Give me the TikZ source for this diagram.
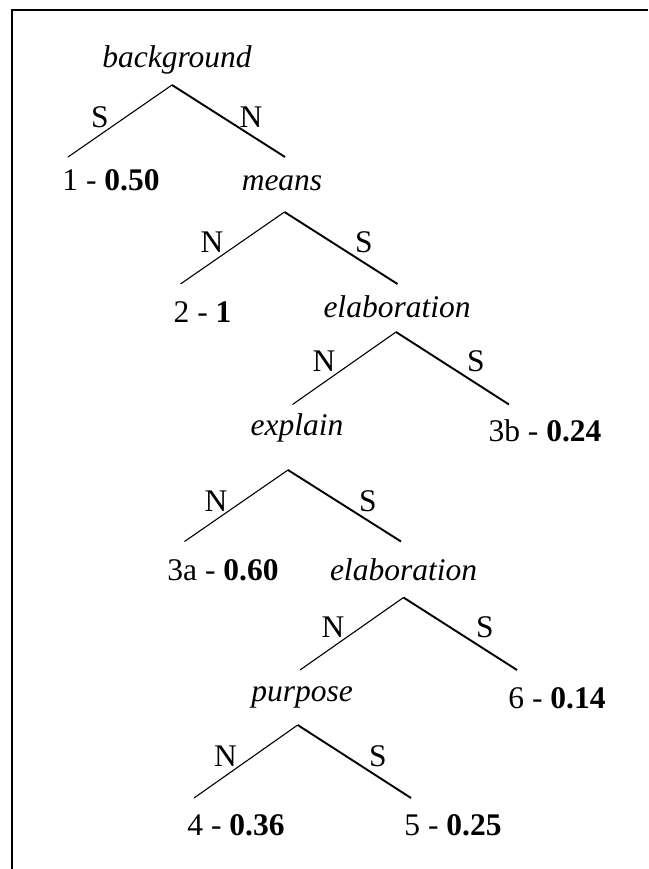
\documentclass[tikz,border=0pt]{standalone}
\usepackage{fontspec}
\setmainfont{Liberation Serif}
\begin{document}
\begin{tikzpicture}[x=1pt,y=-1pt,
  lab/.style={font=\fontsize{31.5}{36}\selectfont, inner sep=0pt, anchor=base},
  rel/.style={font=\fontsize{31.5}{36}\selectfont\itshape, inner sep=0pt, anchor=base},
  nuc/.style={font=\fontsize{31.5}{36}\selectfont, inner sep=0pt, anchor=center},
  thinedge/.style={line width=1.1pt},
  thickedge/.style={line width=1.9pt},
  frameline/.style={line width=2pt, line join=miter}]
\useasboundingbox (0,0) rectangle (648,869);
% frame
\coordinate (fb) at (12.3,869);
\coordinate (fc) at (12.3,10.3);
\coordinate (fr) at (648,10.3);
\draw[frameline] (fb) -- (fc) -- (fr);

% relation labels
\node[rel] (bg) at (177,68) {background};
\node[rel] (means) at (282,190) {means};
\node[rel] (elab1) at (397,317) {elaboration};
\node[rel] (expl) at (297,435) {explain};
\node[rel] (elab2) at (403.5,580) {elaboration};
\node[rel] (purp) at (302,701) {purpose};

% leaves
\node[lab] (l1) at (111,190) {1 - \textbf{0.50}};
\node[lab] (l2) at (202.5,322) {2 - \textbf{1}};
\node[lab] (l3b) at (545,441) {3b - \textbf{0.24}};
\node[lab] (l3a) at (223,580) {3a - \textbf{0.60}};
\node[lab] (l6) at (557,708) {6 - \textbf{0.14}};
\node[lab] (l4) at (236,835) {4 - \textbf{0.36}};
\node[lab] (l5) at (453,835) {5 - \textbf{0.25}};

% apexes and ends
\coordinate (bgA) at (172,85);   \coordinate (bgL) at (68,157);   \coordinate (bgR) at (285,157);
\coordinate (mA) at (284.5,212); \coordinate (mL) at (180.5,284); \coordinate (mR) at (397.5,284);
\coordinate (e1A) at (396,332);  \coordinate (e1L) at (292.5,404.5); \coordinate (e1R) at (509,404.5);
\coordinate (xA) at (288,470);   \coordinate (xL) at (184.5,541.5); \coordinate (xR) at (401,541.5);
\coordinate (e2A) at (403.5,597.5); \coordinate (e2L) at (300,670); \coordinate (e2R) at (517,670);
\coordinate (pA) at (297.7,725); \coordinate (pL) at (194,798);  \coordinate (pR) at (411,798);

\draw[thinedge] (bgA) -- (bgL);  \draw[thickedge] (bgA) -- (bgR);
\draw[thinedge] (mA) -- (mL);    \draw[thickedge] (mA) -- (mR);
\draw[thinedge] (e1A) -- (e1L);  \draw[thickedge] (e1A) -- (e1R);
\draw[thinedge] (xA) -- (xL);    \draw[thickedge] (xA) -- (xR);
\draw[thinedge] (e2A) -- (e2L);  \draw[thickedge] (e2A) -- (e2R);
\draw[thinedge] (pA) -- (pL);    \draw[thickedge] (pA) -- (pR);

% nuclearity labels
\node[nuc] (bgS) at (100,117) {S};   \node[nuc] (bgN) at (251,117) {N};
\node[nuc] (mN) at (212,242) {N};    \node[nuc] (mS) at (364,242) {S};
\node[nuc] (e1N) at (324,361) {N};   \node[nuc] (e1S) at (476,361) {S};
\node[nuc] (xN) at (216,501) {N};    \node[nuc] (xS) at (368,501) {S};
\node[nuc] (e2N) at (333,627.5) {N}; \node[nuc] (e2S) at (485,627.5) {S};
\node[nuc] (pN) at (225.5,756) {N};  \node[nuc] (pS) at (378,756) {S};
\end{tikzpicture}
\end{document}
